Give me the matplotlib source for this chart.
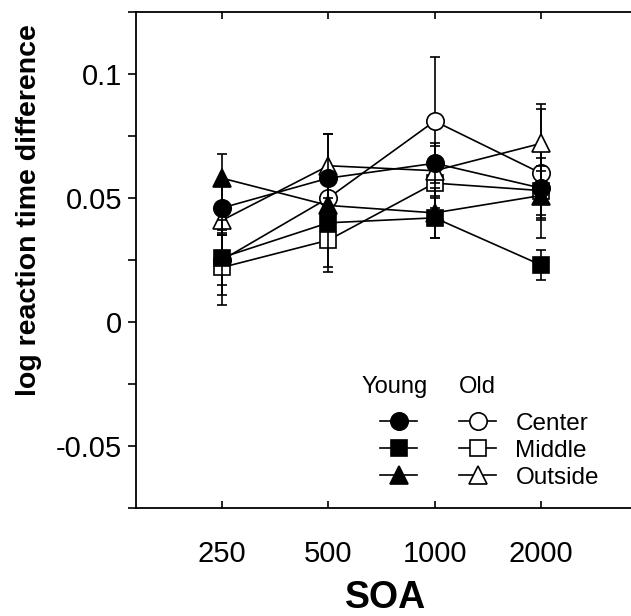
import numpy as np
import matplotlib
matplotlib.use('Agg')
from matplotlib import pyplot as plt
from matplotlib.ticker import MultipleLocator

plt.rcParams['font.family'] = ['Liberation Sans', 'DejaVu Sans']

# SOA conditions (ms), plotted as equally spaced categories
soa = ['250', '500', '1000', '2000']

# mean log RT difference per group / location
young_center = [0.046, 0.058, 0.064, 0.054]
young_middle = [0.026, 0.040, 0.042, 0.023]
young_outside = [0.058, 0.047, 0.044, 0.051]
old_center = [0.025, 0.050, 0.081, 0.060]
old_middle = [0.022, 0.033, 0.056, 0.053]
old_outside = [0.041, 0.063, 0.061, 0.072]

# error bar half-widths
young_center_err = [0.010, 0.018, 0.008, 0.012]
young_middle_err = [0.015, 0.018, 0.008, 0.006]
young_outside_err = [0.0096, 0.010, 0.010, 0.010]
old_center_err = [0.010, 0.012, 0.026, 0.026]
old_middle_err = [0.015, 0.013, 0.010, 0.010]
old_outside_err = [0.006, 0.013, 0.010, 0.016]

locations = ['Center', 'Middle', 'Outside']

fig = plt.figure(figsize=(6.31, 6.16), dpi=100)
ax = fig.add_axes([136/631, 1 - 508/616, 495/631, 496/616])

x = np.arange(1, len(soa) + 1)

series = [
    (old_center, old_center_err, 'o', 'white', 12.5),
    (old_middle, old_middle_err, 's', 'white', 12),
    (old_outside, old_outside_err, '^', 'white', 13.5),
    (young_center, young_center_err, 'o', 'black', 12.5),
    (young_middle, young_middle_err, 's', 'black', 12),
    (young_outside, young_outside_err, '^', 'black', 13.5),
]

handles = []
for i, (vals, err, mk, fc, ms) in enumerate(series):
    eb = ax.errorbar(x, vals, yerr=err, color='black', lw=1.2, marker=mk,
                     markersize=ms, markerfacecolor=fc, markeredgecolor='black',
                     markeredgewidth=1.2, capsize=3.3, capthick=1.2,
                     elinewidth=1.2, zorder=3 + i)
    handles.append(eb[0])

ax.set_xlim(0.191, 4.847)
ax.set_ylim(-0.075, 0.125)
ax.set_xticks(x)
ax.set_xticklabels(soa)
ax.yaxis.set_major_locator(MultipleLocator(0.05))
ax.yaxis.set_minor_locator(MultipleLocator(0.025))
ax.set_yticks([-0.05, 0, 0.05, 0.1])
ax.set_yticklabels(['-0.05', '0', '0.05', '0.1'])

ax.spines['right'].set_visible(False)
for s in ['left', 'top', 'bottom']:
    ax.spines[s].set_linewidth(1.3)

ax.tick_params(axis='x', direction='in', top=True, length=5, width=1.2,
               pad=23, labelsize=21)
ax.tick_params(axis='y', which='both', direction='out', length=6, width=1.2,
               pad=4, labelsize=21)

ax.set_xlabel('SOA', fontsize=27, fontweight='bold')
ax.xaxis.set_label_coords(0.505, -0.146)
ax.set_ylabel('log reaction time difference', fontsize=20.5, fontweight='bold')
ax.yaxis.set_label_coords(-0.19, 0.6)

# legend: young column (no labels) and old column with location names
leg_handles = handles[3:] + handles[:3]
leg_labels = [''] * 3 + locations
leg = ax.legend(leg_handles, leg_labels, ncol=2, frameon=False,
                loc='upper left', bbox_to_anchor=(0.493, 0.192),
                borderaxespad=0, borderpad=0, fontsize=17.5,
                handlelength=1.52, handletextpad=0.8, columnspacing=0.93,
                labelspacing=0.2, numpoints=1)

fig.text(395/631, 1 - 387/616, 'Young', fontsize=17, ha='center', va='center')
fig.text(477/631, 1 - 387/616, 'Old', fontsize=17, ha='center', va='center')

fig.savefig('out.png', dpi=100)
